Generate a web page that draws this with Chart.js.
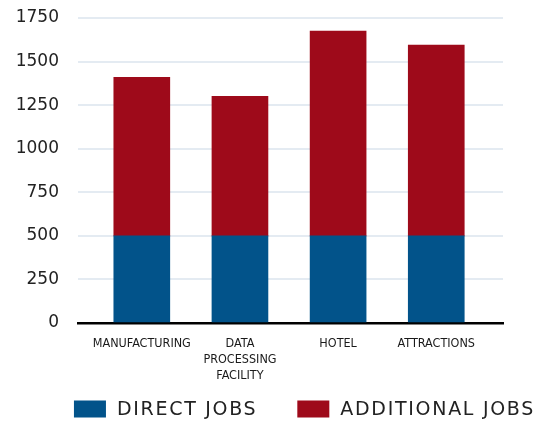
<!DOCTYPE html>
<html>
<head>
<meta charset="utf-8">
<script src="https://cdn.jsdelivr.net/npm/chart.js@4"></script>
<style>
    body { margin: 0; background: #fff; }
    #grafico { display: block; }
</style>
</head>
<body>
<canvas id="grafico" width="535" height="422"></canvas>
<script>
// Datos del gráfico
const categorias = ["MANUFACTURING", ["DATA", "PROCESSING", "FACILITY"], "HOTEL", "ATTRACTIONS"];
const empleosDirectos = [500, 500, 500, 500];
const empleosAdicionales = [910, 800, 1175, 1095];
const ticksY = [0, 250, 500, 750, 1000, 1250, 1500, 1750];

const azul = "#02538a";
const rojo = "#9e0a1a";

// eje x lineal para que la grilla se extienda más allá de las barras
const puntos = (valores) => valores.map((v, i) => ({ x: i, y: v }));

// Leyenda dibujada a mano, alineada a la derecha
const leyenda = {
    id: "leyenda",
    afterDraw(chart) {
        const ctx = chart.ctx;
        ctx.save();
        ctx.font = "19px 'DejaVu Sans'";
        ctx.letterSpacing = "1.7px";
        ctx.textBaseline = "middle";
        ctx.textAlign = "left";

        const caja = 32, alto = 17, sep = 11, hueco = 40;
        const items = chart.data.datasets.map(d => ({
            texto: d.label,
            color: d.backgroundColor,
            ancho: ctx.measureText(d.label).width
        }));

        let total = hueco * (items.length - 1);
        items.forEach(it => { total += caja + sep + it.ancho; });

        let x = chart.width - total;
        const y = chart.height - 13;

        items.forEach(it => {
            ctx.fillStyle = it.color;
            ctx.fillRect(x, y - alto / 2, caja, alto);
            ctx.fillStyle = "#222";
            ctx.fillText(it.texto, x + caja + sep, y + 1);
            x += caja + sep + it.ancho + hueco;
        });

        ctx.restore();
    }
};

new Chart(document.getElementById("grafico"), {
    type: "bar",
    data: {
        datasets: [
            {
                label: "DIRECT JOBS",
                data: puntos(empleosDirectos),
                backgroundColor: azul,
                barThickness: 56
            },
            {
                label: "ADDITIONAL JOBS",
                data: puntos(empleosAdicionales),
                backgroundColor: rojo,
                barThickness: 56
            }
        ]
    },
    options: {
        responsive: false,
        animation: false,
        layout: {
            padding: { top: 18, right: 0, left: 0, bottom: 33 }
        },
        plugins: {
            tooltip: { enabled: false },
            legend: { display: false }
        },
        scales: {
            x: {
                type: "linear",
                stacked: true,
                offset: false,
                min: -0.65,
                max: 3.68,
                afterBuildTicks: (eje) => {
                    eje.ticks = categorias.map((c, i) => ({ value: i }));
                },
                grid: { display: false },
                border: { display: true, color: "#000", width: 2.5 },
                ticks: {
                    callback: (valor) => categorias[valor],
                    maxRotation: 0,
                    autoSkip: false,
                    padding: 5,
                    color: "#1a1a1a",
                    font: { family: "'Liberation Sans Narrow', 'DejaVu Sans Condensed'", size: 12.5, lineHeight: 1.28 }
                }
            },
            y: {
                stacked: true,
                min: 0,
                max: 1750,
                afterBuildTicks: (eje) => {
                    eje.ticks = ticksY.map(v => ({ value: v }));
                },
                afterFit: (eje) => { eje.width = 78; },
                // marcas invisibles para separar las etiquetas del área
                grid: { color: "#e4ebf2", lineWidth: 2, drawTicks: true, tickLength: 19, tickColor: "rgba(0,0,0,0)" },
                border: { display: false },
                ticks: {
                    callback: (valor) => String(valor),
                    padding: 0,
                    color: "#222",
                    font: { family: "'DejaVu Sans'", size: 17 }
                }
            },
            // eje vacío a la derecha, solo para dejar margen al área del gráfico
            margen: {
                type: "linear",
                position: "right",
                grid: { display: false },
                border: { display: false },
                ticks: { display: false },
                afterFit: (eje) => { eje.width = 32; }
            }
        }
    },
    plugins: [leyenda]
});
</script>
</body>
</html>
